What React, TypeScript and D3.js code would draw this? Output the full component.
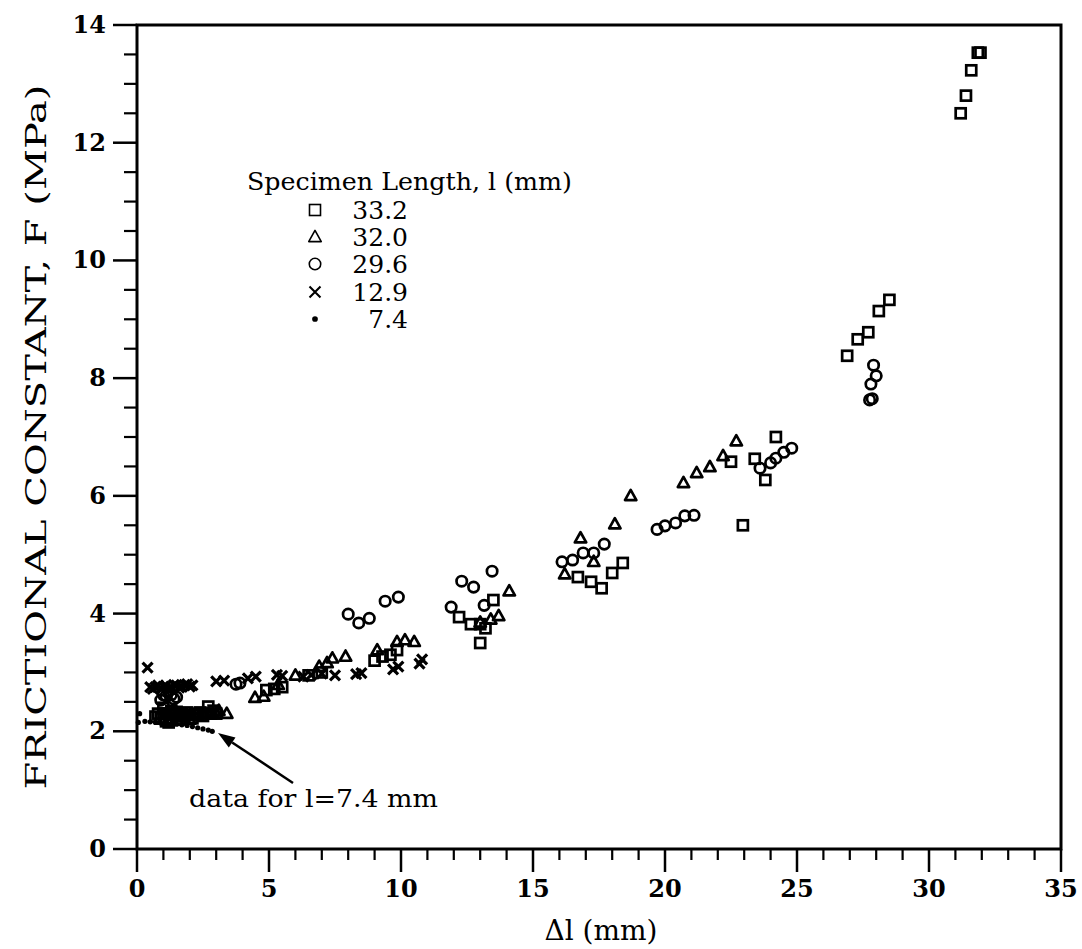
import React from "react";
import * as d3 from "d3";

// ---- Data ----
const sq332: [number, number][] = [
  [0.7, 2.25], [0.8, 2.3], [0.9, 2.22], [1.0, 2.4], [1.0, 2.3], [1.1, 2.3], [1.1, 2.17], [1.2, 2.15],
  [1.2, 2.3], [1.3, 2.35], [1.3, 2.22], [1.4, 2.28], [1.5, 2.2], [1.5, 2.33], [1.6, 2.27], [1.7, 2.3],
  [1.7, 2.2], [1.8, 2.25], [1.9, 2.32], [2.0, 2.28], [2.1, 2.22], [2.2, 2.3], [2.3, 2.27], [2.4, 2.32],
  [2.5, 2.26], [2.6, 2.3], [2.7, 2.42], [2.8, 2.3], [2.9, 2.35], [3.0, 2.3],
  [4.9, 2.7], [5.2, 2.72], [5.5, 2.75], [6.5, 2.95], [7.0, 3.0], [9.0, 3.2], [9.3, 3.27], [9.6, 3.3],
  [9.85, 3.38], [12.2, 3.94], [12.65, 3.82], [13.0, 3.82], [13.2, 3.75], [13.0, 3.5], [13.5, 4.23],
  [16.7, 4.62], [17.2, 4.54], [17.6, 4.43], [18.0, 4.69], [18.4, 4.86], [22.5, 6.58], [22.95, 5.5],
  [23.4, 6.63], [23.8, 6.27], [24.2, 7.0], [26.9, 8.38], [27.3, 8.66], [27.7, 8.78], [28.1, 9.14],
  [28.5, 9.33], [31.2, 12.5], [31.4, 12.8], [31.6, 13.23], [31.85, 13.53], [31.95, 13.53],
];
const tri320: [number, number][] = [
  [1.0, 2.2], [1.5, 2.25], [2.0, 2.2], [2.5, 2.3], [3.0, 2.3], [3.1, 2.35], [3.4, 2.3], [4.47, 2.57],
  [4.8, 2.59], [5.35, 2.79], [6.0, 2.95], [6.9, 3.1], [7.2, 3.16], [7.4, 3.24], [7.9, 3.27], [9.1, 3.38],
  [9.85, 3.52], [10.15, 3.55], [10.5, 3.52], [13.0, 3.85], [13.4, 3.9], [13.7, 3.96], [14.1, 4.38],
  [16.2, 4.67], [17.3, 4.88], [16.8, 5.28], [18.1, 5.52], [18.7, 6.0], [20.7, 6.22], [21.2, 6.39],
  [21.7, 6.49], [22.2, 6.68], [22.7, 6.93],
];
const circ296: [number, number][] = [
  [0.9, 2.53], [1.0, 2.62], [1.1, 2.6], [1.2, 2.68], [1.3, 2.62], [1.4, 2.55], [1.5, 2.58],
  [3.75, 2.8], [3.9, 2.82], [8.0, 3.99],
  [8.4, 3.84], [8.8, 3.92], [9.4, 4.21], [9.9, 4.28], [11.9, 4.11], [12.3, 4.55], [12.75, 4.45],
  [13.15, 4.14], [13.45, 4.72], [16.1, 4.88], [16.5, 4.91], [16.9, 5.03], [17.3, 5.03], [17.7, 5.18],
  [19.7, 5.43], [20.0, 5.49], [20.4, 5.54], [20.75, 5.66], [21.1, 5.67], [23.6, 6.47], [24.0, 6.56],
  [24.2, 6.64], [24.5, 6.74], [24.8, 6.81], [27.75, 7.63], [27.85, 7.65], [27.8, 7.9], [28.0, 8.04],
  [27.9, 8.22],
];
const x129: [number, number][] = [
  [0.4, 3.08], [0.5, 2.75], [0.6, 2.72], [0.7, 2.75], [0.8, 2.78], [0.9, 2.73], [1.0, 2.76], [1.1, 2.77],
  [1.2, 2.73], [1.3, 2.75], [1.4, 2.79], [1.5, 2.78], [1.6, 2.74], [1.7, 2.76], [1.8, 2.79], [1.9, 2.8],
  [2.0, 2.76], [2.1, 2.78], [3.0, 2.85], [3.3, 2.86], [4.2, 2.9], [4.5, 2.93], [5.3, 2.96], [5.5, 2.94],
  [6.3, 2.93], [6.6, 2.96], [7.0, 2.98], [7.5, 2.95], [8.3, 2.97], [8.5, 2.99], [9.7, 3.05], [9.9, 3.1],
  [10.7, 3.15], [10.8, 3.22],
];
const dot74: [number, number][] = [
  [0.05, 2.15], [0.1, 2.3], [0.3, 2.17], [0.5, 2.16], [0.7, 2.15], [0.9, 2.14], [1.1, 2.13], [1.3, 2.12],
  [1.5, 2.12], [1.7, 2.11], [1.9, 2.1], [2.1, 2.08], [2.3, 2.06], [2.5, 2.04], [2.7, 2.02], [2.85, 2.0],
];
const legendLabels = ["33.2", "32.0", "29.6", "12.9", "7.4"];
const xTicks = [0, 5, 10, 15, 20, 25, 30, 35];
const yTicks = [0, 2, 4, 6, 8, 10, 12, 14];

const FONT = "'DejaVu Serif', 'Liberation Serif', serif";

function Marker({ kind, x, y, s = 1, sw = 2.7 }: { kind: string; x: number; y: number; s?: number; sw?: number }) {
  if (kind === "sq") {
    const h = 5 * s;
    return <rect x={x - h} y={y - h} width={2 * h} height={2 * h} fill="none" stroke="#000" strokeWidth={sw} />;
  }
  if (kind === "tri") {
    const h = 6 * s;
    return (
      <path d={`M${x},${y - h}L${x + h * 0.95},${y + h * 0.7}L${x - h * 0.95},${y + h * 0.7}Z`} fill="none" stroke="#000" strokeWidth={sw} strokeLinejoin="round" />
    );
  }
  if (kind === "circ") {
    return <circle cx={x} cy={y} r={5.2 * s} fill="none" stroke="#000" strokeWidth={sw} />;
  }
  if (kind === "x") {
    const h = 5 * s;
    return <path d={`M${x - h},${y - h}L${x + h},${y + h}M${x - h},${y + h}L${x + h},${y - h}`} stroke="#000" strokeWidth={sw + 0.5} />;
  }
  return <circle cx={x} cy={y} r={2.6 * s} fill="#000" />;
}

export default function App() {
  const xs = d3.scaleLinear().domain([0, 35]).range([137, 1061]);
  const ys = d3.scaleLinear().domain([0, 14]).range([849, 25]);
  const xMinor = d3.range(0, 36, 1).filter((v) => v % 5 !== 0);
  const yMinor = d3.range(0, 14.01, 0.5).filter((v) => v % 2 !== 0);

  const series: { kind: string; data: [number, number][] }[] = [
    { kind: "dot", data: dot74 },
    { kind: "x", data: x129 },
    { kind: "circ", data: circ296 },
    { kind: "tri", data: tri320 },
    { kind: "sq", data: sq332 },
  ];
  const legendKinds = ["sq", "tri", "circ", "x", "dot"];
  const legendY = [210, 237, 264, 292, 319];

  // arrow
  const ax0 = 293, ay0 = 783, ax1 = 218, ay1 = 733;
  const ang = Math.atan2(ay1 - ay0, ax1 - ax0);
  const hl = 17, hw = 6;
  const bx = ax1 - hl * Math.cos(ang), by = ay1 - hl * Math.sin(ang);
  const head = `M${ax1},${ay1}L${bx + hw * Math.sin(ang)},${by - hw * Math.cos(ang)}L${bx - hw * Math.sin(ang)},${by + hw * Math.cos(ang)}Z`;

  return (
    <svg width={1082} height={949} style={{ position: "absolute", left: 0, top: 0, background: "#fff" }} fontFamily={FONT}>
      <rect x={0} y={0} width={1082} height={949} fill="#fff" />
      {/* frame */}
      <rect x={137} y={25} width={924} height={824} fill="none" stroke="#000" strokeWidth={3} />
      {/* x ticks */}
      {xTicks.map((t) => (
        <g key={"xt" + t}>
          <line x1={xs(t)} x2={xs(t)} y1={849} y2={872} stroke="#000" strokeWidth={2.5} />
          <text x={xs(t)} y={897} textAnchor="middle" fontSize={24} fontWeight="bold">{t}</text>
        </g>
      ))}
      {xMinor.map((t) => (
        <line key={"xm" + t} x1={xs(t)} x2={xs(t)} y1={849} y2={860} stroke="#000" strokeWidth={2.2} />
      ))}
      {/* y ticks */}
      {yTicks.map((t) => (
        <g key={"yt" + t}>
          <line x1={113} x2={137} y1={ys(t)} y2={ys(t)} stroke="#000" strokeWidth={2.5} />
          <text x={106} y={ys(t) + 8} textAnchor="end" fontSize={24} fontWeight="bold">{t}</text>
        </g>
      ))}
      {yMinor.map((t) => (
        <line key={"ym" + t} x1={124} x2={137} y1={ys(t)} y2={ys(t)} stroke="#000" strokeWidth={2.2} />
      ))}
      {/* axis titles */}
      <text x={601} y={940} textAnchor="middle" fontSize={28}>Δl (mm)</text>
      <text transform="translate(46,437) rotate(-90)" textAnchor="middle" fontSize={27} textLength={705} lengthAdjust="spacingAndGlyphs">
        FRICTIONAL CONSTANT, F (MPa)
      </text>
      {/* data */}
      {series.map((s) => (
        <g key={s.kind}>
          {s.data.map((d, i) => (
            <Marker key={i} kind={s.kind} x={xs(d[0])} y={ys(d[1])} />
          ))}
        </g>
      ))}
      {/* legend */}
      <text x={247} y={190} fontSize={25} textLength={325} lengthAdjust="spacingAndGlyphs">Specimen Length, l (mm)</text>
      {legendLabels.map((l, i) => (
        <g key={l}>
          <Marker kind={legendKinds[i]} x={315} y={legendY[i]} s={1.1} sw={1.6} />
          <text x={408} y={legendY[i] + 9} textAnchor="end" fontSize={25}>{l}</text>
        </g>
      ))}
      {/* annotation */}
      <line x1={ax0} y1={ay0} x2={bx} y2={by} stroke="#000" strokeWidth={2.5} />
      <path d={head} fill="#000" />
      <text x={189} y={807} fontSize={25} textLength={249} lengthAdjust="spacingAndGlyphs">data for l=7.4 mm</text>
    </svg>
  );
}
